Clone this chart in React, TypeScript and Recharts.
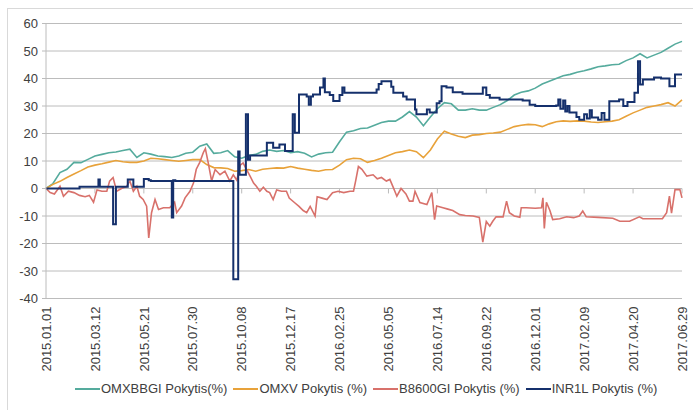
import { LineChart, Line, XAxis, YAxis, CartesianGrid, Legend, ReferenceLine } from 'recharts'

const FONT = '"Liberation Sans", Arial, sans-serif'
const GRID = '#bcbcbc'
const TEXT = '#404040'

// days since 2015.01.01
const days = [
  0, 10, 20, 30, 40, 50, 60, 70, 80, 90,
  100, 110, 120, 130, 140, 150, 160, 170, 180, 190,
  200, 210, 220, 230, 240, 250, 260, 270, 280, 290,
  300, 310, 320, 330, 340, 350, 360, 370, 380, 390,
  400, 410, 420, 430, 440, 450, 460, 470, 480, 490,
  500, 510, 520, 530, 540, 550, 560, 570, 580, 590,
  600, 610, 620, 630, 640, 650, 660, 670, 680, 690,
  700, 710, 720, 730, 740, 750, 760, 770, 780, 790,
  800, 810, 820, 830, 840, 850, 860, 870, 880, 890,
  900, 910,
]

const omxbbgi = [
  0, 1.8, 5.8, 7, 9.5, 9.4, 10.6, 11.8, 12.4, 13,
  13.3, 13.8, 14.3, 11.3, 13, 12.5, 11.8, 11.6, 11.3, 11.8,
  12.8, 13.2, 15.4, 16.2, 12.8, 13, 13.8, 11.5, 11, 12,
  12.4, 13.5, 14, 13.5, 13.8, 13, 13.4, 12.8, 11.5, 12.5,
  13, 13.2, 17, 20.5, 21, 21.8, 22, 23, 24, 24.5,
  24.5, 26, 28, 26, 22.8, 26, 29, 31.2, 30.8, 28.5,
  28.5, 29, 28.5, 28.5, 29.5, 30.5, 32, 34, 35, 35.5,
  36.5, 38, 39, 40, 41, 41.5, 42.3, 42.8, 43.5, 44.3,
  44.6, 45, 45.2, 46.5, 47.5, 49, 47.5, 48.5, 49.5, 51,
  52.5, 53.5,
]

const omxv = [
  0, 1.5, 2.6, 4, 5.3, 6.5, 7.8, 8.5, 9, 9.6,
  10.2, 9.7, 9.5, 9.5, 10, 11, 10.8, 10.5, 10.2, 9.9,
  10.2, 10.5, 10.5, 8.7, 7.6, 7.5, 7.3, 6.3, 6.5, 6.9,
  6.3, 7, 7.3, 7.5, 7.4, 8, 7.4, 7, 6.6, 6.3,
  6.8, 6.9, 8.5, 10.5, 11, 10.8, 9.5, 10.2, 11, 12,
  13, 13.4, 14, 13.4, 11.2, 14, 18, 20.8, 19.8, 19,
  18.5, 19.4, 19.6, 20, 20.2, 20.5, 21.5, 22.5, 23, 23.3,
  23.2, 22.5, 23.5, 24.3, 24.6, 24.4, 24.6, 24.5, 24.2, 24,
  24.3, 24.5, 25, 26.3, 27.5, 28.5, 29.5, 30, 30.5, 31.2,
  30, 32.2,
]

const b8600Days = [
  0, 6, 12, 20, 25, 32, 40, 48, 56, 62, 68, 73, 80, 87, 91, 96, 101, 108, 115, 120,
  125, 130, 134, 139, 144, 147, 151, 156, 161, 168, 177, 184, 187, 194, 199, 206, 211, 215, 220, 225,
  228, 232, 237, 242, 249, 256, 263, 268, 273, 278, 282, 287, 292, 297, 301, 306, 311, 316, 320, 325,
  330, 337, 344, 348, 355, 362, 368, 373, 378, 385, 388, 395, 402, 410, 418, 426, 435, 440, 443, 447,
  452, 459, 468, 474, 480, 487, 492, 497, 502, 508, 515, 520, 525, 528, 535, 545, 552, 556, 559, 568,
  575, 582, 592, 600, 611, 620, 625, 630, 635, 639, 644, 654, 659, 663, 670, 678, 680, 687, 700, 709,
  711, 713, 716, 721, 725, 735, 745, 755, 763, 768, 773, 790, 811, 821, 835, 849, 854, 868, 882, 888,
  892, 895, 900, 907, 910,
]
const b8600gi = [
  0, -1.5, -2, 0.8, -2.8, -1, -1.5, -2.5, -3, -2.5, -5, -0.5, -1, -1, 2.7, 4, -1, 0, 0.7, 2.7,
  -1, 0.8, -2.8, -4, -6.4, -18, -8.8, -4, -7.6, -7, -7, -5, -8.8, -6.4, -3.4, -1, 2, 7, 9.5, 13,
  14.5, 9.5, 2.7, 6.9, 5, 6.3, 2.7, 5, 3, 8.5, 9.3, 6.9, 4.5, 2, 0.8, -1, 0.5, -1, -1.5, -4,
  -0.5, -1, -1, -3.5, -5, -6.5, -8, -8.8, -6.5, -10, -3, -3.5, -4, -1.5, -1, -1.5, -1, -1, 2.7, 8,
  7, 4.5, 5, 3.5, 4, 2.7, 3.3, 0.3, -2.8, 0, -2, -4.6, -4.6, -1, -5.1, -5.8, -1.5, -11.3, -6.4, -7,
  -7.5, -8, -9.5, -9.8, -10, -10.5, -19.5, -12, -13.7, -12, -10.3, -10.3, -4.6, -8.8, -10, -10.5, -7, -7, -7.2, -7,
  -3.4, -14.5, -5, -8, -11.3, -11, -10.3, -10.6, -10, -8.2, -10.3, -10.5, -10.8, -11.9, -11.9, -10.3, -11, -11, -11, -8.8,
  -2.8, -9, -0.4, -0.4, -3.4,
]

const inr1lDays = [
  0, 48, 75, 77, 96, 100, 117, 125, 140, 147, 150, 180, 182, 185, 268, 275, 277, 286, 289, 292,
  316, 325, 334, 342, 353, 356, 362, 373, 376, 379, 382, 392, 397, 399, 406, 411, 420, 424, 427, 473,
  476, 480, 494, 497, 511, 516, 528, 530, 545, 549, 559, 563, 566, 573, 582, 596, 625, 630, 635, 649,
  682, 692, 700, 730, 733, 736, 740, 743, 746, 749, 759, 763, 770, 774, 778, 781, 790, 795, 799, 806,
  820, 826, 832, 842, 847, 850, 854, 870, 880, 892, 900, 910,
]
const inr1l = [
  0, 0.6, 3.3, 0.6, -13, 0.6, 3.3, 0.6, 3.5, 3, 2.7, -10.5, 3, 2.7, -33, 13.5, 5, 27, 10.5, 12,
  16.6, 14.8, 16, 13.6, 27, 20.3, 34.2, 33.5, 30.5, 33.5, 34.2, 36.7, 40, 35, 34, 31.8, 34, 36.7, 34.8, 36,
  38, 39, 37, 34.8, 33.5, 32.4, 28.7, 27, 28.7, 27.6, 31, 31.7, 37.2, 36.7, 35, 34.5, 36.7, 34, 33, 32.4,
  32, 30.5, 30, 30.2, 32.4, 29, 32, 28, 30, 27.6, 26, 25, 27, 25.5, 28.5, 25.8, 25, 27.5, 25, 31.7,
  32.4, 30, 31.5, 34.8, 46.3, 37.8, 39.6, 40.4, 40, 37.2, 41.5, 41.5,
]

const seriesNames = ['OMXBBGI Pokytis(%)', 'OMXV Pokytis (%)', 'B8600GI Pokytis (%)', 'INR1L Pokytis (%)']

const tickDays = [0, 70, 140, 210, 280, 350, 420, 490, 560, 630, 700, 770, 840, 910]
const tickLabels = [
  '2015.01.01', '2015.03.12', '2015.05.21', '2015.07.30', '2015.10.08', '2015.12.17', '2016.02.25',
  '2016.05.05', '2016.07.14', '2016.09.22', '2016.12.01', '2017.02.09', '2017.04.20', '2017.06.29',
]
const yTicks = [-40, -30, -20, -10, 0, 10, 20, 30, 40, 50, 60]

const rows = (xs: number[], vs: number[]) => xs.map((d, i) => ({ day: d, v: vs[i] }))

const DateTick = (props: any) => {
  const { x, y, payload } = props
  const label = tickLabels[tickDays.indexOf(payload.value)]
  return (
    <text
      x={x}
      y={y}
      transform={`rotate(-90 ${x} ${y})`}
      textAnchor="end"
      dy="0.36em"
      fontSize={13}
      fontFamily={FONT}
      fill={TEXT}
    >
      {label}
    </text>
  )
}

const renderLegend = (props: any) => {
  const items = [...props.payload].sort(
    (a: any, b: any) => seriesNames.indexOf(a.value) - seriesNames.indexOf(b.value),
  )
  return (
    <div style={{ display: 'flex', fontFamily: FONT, fontSize: 13, color: TEXT, whiteSpace: 'nowrap' }}>
      {items.map((p: any) => (
        <div key={p.value} style={{ display: 'flex', alignItems: 'center', marginRight: 6 }}>
          <svg width={25} height={10}>
            <line x1={0} y1={5} x2={25} y2={5} stroke={p.color} strokeWidth={2} />
          </svg>
          <span style={{ marginLeft: 1 }}>{p.value}</span>
        </div>
      ))}
    </div>
  )
}

export default function App() {
  return (
    <div style={{ position: 'fixed', left: 0, top: 0, width: 693, height: 410, overflow: 'hidden', background: '#fff' }}>
      <div style={{ position: 'absolute', left: 7, top: 8, width: 700, height: 420, border: '1px solid #d9d9d9', background: '#fff' }}>
        <LineChart width={690} height={401} margin={{ top: 14.5, right: 16, left: 0, bottom: 3 }}>
          <CartesianGrid vertical={false} stroke={GRID} />
          <XAxis
            dataKey="day"
            type="number"
            domain={[0, 910]}
            ticks={tickDays}
            interval={0}
            tick={<DateTick />}
            axisLine={false}
            tickLine={false}
            tickSize={0}
            tickMargin={8}
            height={82.5}
          />
          <YAxis
            type="number"
            domain={[-40, 60]}
            ticks={yTicks}
            interval={0}
            width={38}
            tick={{ fontSize: 13, fontFamily: FONT, fill: TEXT }}
            tickSize={4}
            tickMargin={4}
            stroke={GRID}
            tickLine={{ stroke: GRID }}
            axisLine={{ stroke: GRID }}
          />
          {tickDays.slice(1).map((d) => (
            <ReferenceLine key={d} segment={[{ x: d, y: 0 }, { x: d, y: -1.8 }]} stroke={GRID} />
          ))}
          <Line data={rows(days, omxbbgi)} dataKey="v" name={seriesNames[0]} stroke="#55ab9d" strokeWidth={1.6} dot={false} isAnimationActive={false} />
          <Line data={rows(days, omxv)} dataKey="v" name={seriesNames[1]} stroke="#e8a23a" strokeWidth={1.6} dot={false} isAnimationActive={false} />
          <Line data={rows(b8600Days, b8600gi)} dataKey="v" name={seriesNames[2]} stroke="#d8716b" strokeWidth={1.6} dot={false} isAnimationActive={false} />
          <Line data={rows(inr1lDays, inr1l)} dataKey="v" type="stepAfter" name={seriesNames[3]} stroke="#15306c" strokeWidth={2} dot={false} isAnimationActive={false} />
          <Legend verticalAlign="bottom" height={26} content={renderLegend} wrapperStyle={{ left: 67, width: 620 }} />
        </LineChart>
      </div>
    </div>
  )
}
